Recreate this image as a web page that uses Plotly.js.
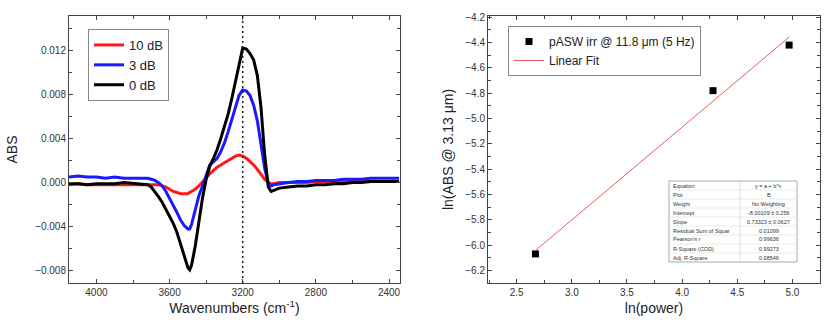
<!DOCTYPE html>
<html>
<head>
<meta charset="utf-8">
<script src="https://cdn.plot.ly/plotly-3.0.1.min.js"></script>
<style>html,body{margin:0;padding:0;background:#fff;}#chart{width:830px;height:333px;}</style>
</head>
<body>
<div id="chart"></div>
<script>
// ---- Left panel: difference spectra ----
const wavenumbers = [4150,4100,4050,4000,3950,3900,3850,3800,3750,3720,3700,3680,3660,3640,3620,3600,3580,3560,3540,3520,3500,3490,3480,3460,3440,3420,3400,3380,3360,3340,3320,3300,3280,3260,3240,3220,3200,3180,3160,3140,3120,3100,3080,3060,3045,3030,3000,2950,2900,2850,2800,2750,2700,2650,2600,2550,2500,2450,2400,2345];
const abs10dB = [-0.0002,-0.0001,-0.0002,-0.0002,-0.0002,-0.0002,-0.0002,-0.0002,-0.0002,-0.0002,-0.0002,-0.0002,-0.0002,-0.0003,-0.0004,-0.0006,-0.0008,-0.0009,-0.0010,-0.0010,-0.0010,-0.0009,-0.0008,-0.0006,-0.0003,0.0001,0.0004,0.0008,0.0011,0.0014,0.0016,0.0018,0.0020,0.0022,0.0024,0.0025,0.0024,0.0022,0.0019,0.0016,0.0012,0.0007,0.0003,0.0000,-0.0001,-0.0001,0.0000,0.0000,0.0000,0.0000,0.0001,0.0001,0.0001,0.0001,0.0001,0.0001,0.0001,0.0001,0.0001,0.0001];
const abs3dB = [0.0005,0.0006,0.0005,0.0005,0.0004,0.0005,0.0004,0.0004,0.0004,0.0004,0.0003,0.0002,0.0000,-0.0003,-0.0008,-0.0014,-0.0020,-0.0027,-0.0034,-0.0039,-0.0042,-0.0042,-0.0038,-0.0024,-0.0012,-0.0003,0.0007,0.0016,0.0019,0.0022,0.0028,0.0036,0.0046,0.0057,0.0069,0.0079,0.0084,0.0083,0.0079,0.0070,0.0056,0.0036,0.0013,-0.0001,-0.0003,-0.0002,-0.0001,0.0000,0.0001,0.0001,0.0002,0.0002,0.0002,0.0003,0.0003,0.0003,0.0004,0.0004,0.0004,0.0004];
const abs0dB = [-0.0001,-0.0001,-0.0002,-0.0001,-0.0001,-0.0001,0.0000,-0.0001,-0.0002,-0.0002,-0.0004,-0.0008,-0.0013,-0.0018,-0.0024,-0.0030,-0.0037,-0.0045,-0.0055,-0.0066,-0.0077,-0.0079,-0.0075,-0.0058,-0.0036,-0.0014,0.0003,0.0015,0.0022,0.0030,0.0040,0.0050,0.0062,0.0076,0.0092,0.0108,0.0122,0.0121,0.0117,0.0111,0.0097,0.0068,0.0025,-0.0004,-0.0008,-0.0007,-0.0005,-0.0004,-0.0003,-0.0003,-0.0002,-0.0002,-0.0001,-0.0001,0.0000,0.0000,0.0001,0.0001,0.0001,0.0001];
const seriesNames = ['10 dB','3 dB','0 dB'];
const peakLine = 3200;

// ---- Right panel: power dependence ----
const lnPower = [2.67, 4.28, 4.97];
const lnAbs = [-6.07, -4.78, -4.42];
const fitIntercept = -8.00109;
const fitSlope = 0.73323;
const fitX = [2.67, 4.97];
const tableLabels = ['Equation','Plot','Weight','Intercept','Slope','Residual Sum of Squar',"Pearson's r",'R-Square (COD)','Adj. R-Square'];
const tableValues = ['y = a + b*x','B','No Weighting','-8.00109 \u00b1 0.256','0.73323 \u00b1 0.0627','0.01099','0.99636','0.99273','0.98546'];

const FONT = 'Liberation Sans, Arial, sans-serif';

const traces = [
  {x: wavenumbers, y: abs10dB, name: seriesNames[0], type: 'scatter', mode: 'lines', line: {color: '#ff1a1a', width: 3}, xaxis: 'x', yaxis: 'y', legend: 'legend'},
  {x: wavenumbers, y: abs3dB, name: seriesNames[1], type: 'scatter', mode: 'lines', line: {color: '#1a1aff', width: 3}, xaxis: 'x', yaxis: 'y', legend: 'legend'},
  {x: wavenumbers, y: abs0dB, name: seriesNames[2], type: 'scatter', mode: 'lines', line: {color: '#000000', width: 3}, xaxis: 'x', yaxis: 'y', legend: 'legend'},
  {x: lnPower, y: lnAbs, name: 'pASW irr @ 11.8 \u03bcm (5 Hz)', type: 'scatter', mode: 'markers', marker: {symbol: 'square', color: '#000', size: 7}, xaxis: 'x2', yaxis: 'y2', legend: 'legend2'},
  {x: fitX, y: fitX.map(v => fitIntercept + fitSlope * v), name: 'Linear Fit', type: 'scatter', mode: 'lines', line: {color: '#e85a5a', width: 1}, xaxis: 'x2', yaxis: 'y2', legend: 'legend2'}
];

const axisCommon = {showline: true, linecolor: '#444', linewidth: 1, mirror: 'ticks', ticks: 'inside', ticklen: 4, tickcolor: '#444', showgrid: false, zeroline: false,
  tickfont: {family: FONT, size: 10, color: '#333'}};

// Inset fit-results table (drawn as a box with text rows)
const tbl = {x0: 669, x1: 797, xs: 740, y0: 181, rowH: 9};
const px = v => v / 830;
const py = v => (283 - v) / 267;
const shapes = [
  {type: 'line', xref: 'x', yref: 'paper', x0: peakLine, x1: peakLine, y0: 0, y1: 1, line: {color: '#222', width: 1.5, dash: '2px,3px'}},
  {type: 'rect', xref: 'paper', yref: 'paper', x0: px(tbl.x0), x1: px(tbl.x1), y0: py(tbl.y0 + tbl.rowH * tableLabels.length), y1: py(tbl.y0), line: {color: '#aaa', width: 1}, fillcolor: '#fff', layer: 'above'},
  {type: 'line', xref: 'paper', yref: 'paper', x0: px(tbl.xs), x1: px(tbl.xs), y0: py(tbl.y0 + tbl.rowH * tableLabels.length), y1: py(tbl.y0), line: {color: '#ccc', width: 0.6}, layer: 'above'}
];
const annotations = [];
tableLabels.forEach((lab, i) => {
  const yc = py(tbl.y0 + tbl.rowH * (i + 0.5));
  if (i > 0) shapes.push({type: 'line', xref: 'paper', yref: 'paper', x0: px(tbl.x0), x1: px(tbl.x1), y0: py(tbl.y0 + tbl.rowH * i), y1: py(tbl.y0 + tbl.rowH * i), line: {color: '#ddd', width: 0.6}, layer: 'above'});
  annotations.push({xref: 'paper', yref: 'paper', x: px(tbl.x0 + 2), y: yc, xanchor: 'left', yanchor: 'middle', text: lab, showarrow: false, font: {family: FONT, size: 5.5, color: '#333'}});
  annotations.push({xref: 'paper', yref: 'paper', x: px((tbl.xs + tbl.x1) / 2), y: yc, xanchor: 'center', yanchor: 'middle', text: tableValues[i], showarrow: false, font: {family: FONT, size: 5.5, color: '#333'}});
});

const layout = {
  width: 830, height: 333,
  margin: {l: 0, r: 0, t: 16, b: 50},
  paper_bgcolor: '#fff', plot_bgcolor: '#fff',
  font: {family: FONT, color: '#222'},
  showlegend: true,
  xaxis: Object.assign({}, axisCommon, {domain: [69/830, 400/830], range: [4150, 2340], tickvals: [4000,3600,3200,2800,2400], ticktext: ['4000','3600','3200','2800','2400'],
    minor: {dtick: 200, tick0: 2400, ticks: 'inside', ticklen: 3, tickcolor: '#444'},
    title: {text: 'Wavenumbers (cm<sup>-1</sup>)', font: {family: FONT, size: 14, color: '#222'}, standoff: 6}, anchor: 'y'}),
  yaxis: Object.assign({}, axisCommon, {domain: [0, 1], range: [-0.0091, 0.0151], dtick: 0.004, tick0: 0, tickformat: '.3f',
    minor: {dtick: 0.002, tick0: 0, ticks: 'inside', ticklen: 3, tickcolor: '#444'},
    title: {text: 'ABS', font: {family: FONT, size: 14, color: '#222'}, standoff: 14}, anchor: 'x'}),
  xaxis2: Object.assign({}, axisCommon, {domain: [488/830, 820/830], range: [2.24, 5.25], dtick: 0.5, tick0: 0, tickformat: '.1f',
    minor: {dtick: 0.25, tick0: 0, ticks: 'inside', ticklen: 3, tickcolor: '#444'},
    title: {text: 'ln(power)', font: {family: FONT, size: 14, color: '#222'}, standoff: 6}, anchor: 'y2'}),
  yaxis2: Object.assign({}, axisCommon, {domain: [0, 1], range: [-6.30, -4.19], dtick: 0.2, tick0: 0, tickformat: '.1f',
    minor: {dtick: 0.1, tick0: 0, ticks: 'inside', ticklen: 3, tickcolor: '#444'},
    title: {text: 'ln(ABS @ 3.13 \u03bcm)', font: {family: FONT, size: 14, color: '#222'}, standoff: 8}, anchor: 'x2'}),
  legend: {x: 88/830, y: (283-29)/267, xanchor: 'left', yanchor: 'top', bgcolor: '#fff', bordercolor: '#888', borderwidth: 1,
    font: {family: FONT, size: 13, color: '#222'}, tracegroupgap: 0, itemwidth: 30, traceorder: 'normal'},
  legend2: {x: 508/830, y: (283-26)/267, xanchor: 'left', yanchor: 'top', bgcolor: '#fff', bordercolor: '#888', borderwidth: 1,
    font: {family: FONT, size: 12, color: '#222'}, tracegroupgap: 0, itemwidth: 30, traceorder: 'normal'},
  shapes: shapes,
  annotations: annotations
};

Plotly.newPlot('chart', traces, layout, {displayModeBar: false, staticPlot: true});
</script>
</body>
</html>
